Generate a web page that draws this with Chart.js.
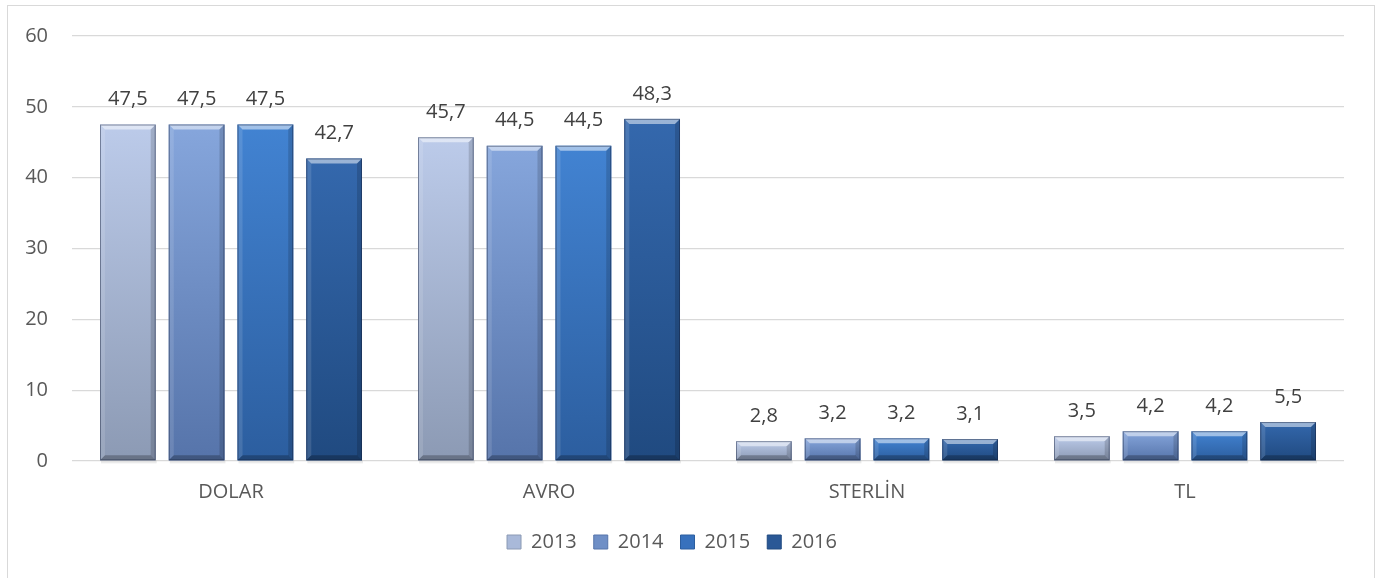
<!DOCTYPE html>
<html>
<head>
<meta charset="utf-8">
<script src="https://cdn.jsdelivr.net/npm/chart.js@4"></script>
<style>
html, body { margin: 0; padding: 0; background: #fff; overflow: hidden; }
#wrap { position: relative; width: 1376px; height: 578px; }
#frame { position: absolute; left: 7px; top: 5px; width: 1366px; height: 620px; border: 1px solid #d9d9d9; pointer-events: none; }
</style>
</head>
<body>
<div id="wrap">
  <canvas id="chart" width="1376" height="578"></canvas>
  <div id="frame"></div>
</div>
<script>
const categories = ['DOLAR', 'AVRO', 'STERLİN', 'TL'];
const years = ['2013', '2014', '2015', '2016'];
const values2013 = [47.5, 45.7, 2.8, 3.5];
const values2014 = [47.5, 44.5, 3.2, 4.2];
const values2015 = [47.5, 44.5, 3.2, 4.2];
const values2016 = [42.7, 48.3, 3.1, 5.5];
const yMin = 0, yMax = 60, yStep = 10;

// top / bottom colours of each year's bars (gradient + bevel look)
const topColors = ['#bccbea', '#86a6dc', '#4283d2', '#3468ad'];
const bottomColors = ['#8c9ab4', '#5674aa', '#2c5e9f', '#204a80'];
const legendColors = ['#a9b9d9', '#6f8fc6', '#3771bd', '#2a5896'];

const FONT = "'Open Sans', sans-serif";

const bevelBars = {
    id: 'bevelBars',
    afterDatasetsDraw(chart) {
        const ctx = chart.ctx;
        chart.data.datasets.forEach((ds, i) => {
            const meta = chart.getDatasetMeta(i);
            meta.data.forEach(bar => {
                const p = bar.getProps(['x', 'y', 'base', 'width'], true);
                const l = p.x - p.width / 2, r = p.x + p.width / 2;
                const t = Math.min(p.y, p.base), b = Math.max(p.y, p.base);
                const h = b - t;
                const s = Math.min(5, h / 2);
                ctx.save();
                // soft shadow under the bar
                ctx.fillStyle = 'rgba(0,0,0,0.08)';
                ctx.fillRect(l + 1, b, p.width, 3);
                const g = ctx.createLinearGradient(0, t, 0, b);
                g.addColorStop(0, topColors[i]);
                g.addColorStop(1, bottomColors[i]);
                ctx.fillStyle = g;
                ctx.fillRect(l, t, p.width, h);
                const facet = (pts, col) => {
                    ctx.beginPath();
                    ctx.moveTo(pts[0], pts[1]);
                    for (let k = 2; k < pts.length; k += 2) ctx.lineTo(pts[k], pts[k + 1]);
                    ctx.closePath();
                    ctx.fillStyle = col;
                    ctx.fill();
                };
                facet([l, t, r, t, r - s, t + s, l + s, t + s], 'rgba(255,255,255,0.5)');
                facet([l, t, l + s, t + s, l + s, b - s, l, b], 'rgba(255,255,255,0.12)');
                facet([r, t, r, b, r - s, b - s, r - s, t + s], 'rgba(0,0,0,0.15)');
                facet([l, b, r, b, r - s, b - s, l + s, b - s], 'rgba(0,0,0,0.25)');
                ctx.strokeStyle = 'rgba(20,30,60,0.45)';
                ctx.lineWidth = 1;
                ctx.strokeRect(l + 0.5, t + 0.5, p.width - 1, h - 1);
                ctx.restore();
            });
        });
    }
};

const valueLabels = {
    id: 'valueLabels',
    afterDatasetsDraw(chart) {
        const ctx = chart.ctx;
        ctx.save();
        ctx.font = '20px ' + FONT;
        ctx.fillStyle = '#404040';
        ctx.textAlign = 'center';
        ctx.textBaseline = 'middle';
        chart.data.datasets.forEach((ds, i) => {
            chart.getDatasetMeta(i).data.forEach((bar, j) => {
                const txt = ds.data[j].toFixed(1).replace('.', ',');
                ctx.fillText(txt, bar.x, bar.y - 25);
            });
        });
        ctx.restore();
    }
};

const seriesValues = [values2013, values2014, values2015, values2016];

const data = {
    labels: categories,
    datasets: years.map((y, i) => ({
        label: y,
        data: seriesValues[i],
        backgroundColor: legendColors[i],
        borderWidth: 0,
        categoryPercentage: 0.865,
        barPercentage: 0.81
    }))
};

const config = {
    type: 'bar',
    data: data,
    options: {
        responsive: false,
        animation: false,
        devicePixelRatio: 1,
        layout: {
            padding: { top: 35, right: 32, left: 0, bottom: 16 }
        },
        plugins: {
            legend: {
                position: 'bottom',
                labels: {
                    font: { family: FONT, size: 20 },
                    color: '#595959',
                    boxWidth: 14,
                    boxHeight: 14,
                    padding: 17,
                    generateLabels: (chart) => chart.data.datasets.map((ds, i) => ({
                        text: ds.label,
                        fillStyle: legendColors[i],
                        strokeStyle: bottomColors[i],
                        lineWidth: 1,
                        datasetIndex: i,
                        fontColor: '#595959'
                    }))
                }
            },
            tooltip: { enabled: false }
        },
        scales: {
            x: {
                grid: { display: false },
                border: { display: false },
                ticks: {
                    font: { family: FONT, size: 20 },
                    color: '#595959',
                    padding: 11
                }
            },
            y: {
                min: yMin,
                max: yMax,
                ticks: {
                    stepSize: yStep,
                    font: { family: FONT, size: 20 },
                    color: '#595959',
                    padding: 24
                },
                grid: { color: '#d9d9d9', lineWidth: 1.3, drawTicks: false },
                border: { display: false },
                afterFit: (scale) => { scale.width = 72; }
            }
        }
    },
    plugins: [bevelBars, valueLabels]
};

new Chart(document.getElementById('chart'), config);
</script>
</body>
</html>
